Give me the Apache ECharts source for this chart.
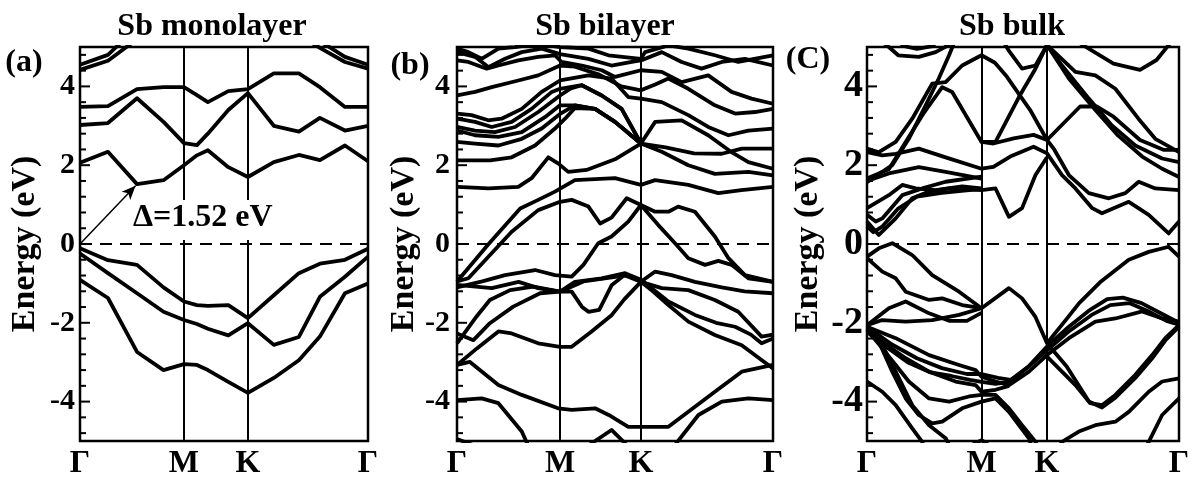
<!DOCTYPE html>
<html>
<head>
<meta charset="utf-8">
<script src="https://cdn.jsdelivr.net/npm/echarts@6/dist/echarts.min.js"></script>
<style>
  html, body { margin: 0; padding: 0; background: #fff; }
  #chart { width: 1198px; height: 484px; }
</style>
</head>
<body>
<div id="chart"></div>
<script>
// high-symmetry points along each path (percent of path length)
const pathLabels = ['Γ', 'M', 'K', 'Γ'];
const monoTicks = [0, 36.1, 58.3, 100];
const biTicks = [0, 32.6, 58.2, 100];
const bulkTicks = [0, 36.7, 57.7, 100];

const yLabels = [-4, -2, 0, 2, 4];

/* ========== Sb monolayer ========== */
const monoK = [0, 9.7, 19.8, 29, 36.1, 40.6, 44.4, 51.5, 58.3, 67.3, 76, 83.3, 92, 100];
const monoBands = [
  [4.55, 4.8, 5.5, 6, 6, 6, 6, 6, 6, 6, 5.6, 5.15, 4.75, 4.55],
  [4.42, 4.65, 5.2, 5.6, 5.8, 5.8, 5.8, 5.8, 5.8, 5.6, 5.3, 4.98, 4.62, 4.45],
  [3.48, 3.5, 3.93, 3.98, 3.98, 3.78, 3.6, 3.88, 3.93, 4.33, 4.33, 3.98, 3.48, 3.48],
  [3.02, 3.07, 3.7, 3.1, 2.56, 2.51, 2.8, 3.4, 3.83, 3.0, 2.85, 3.2, 2.88, 3.0],
  [2.06, 2.34, 1.52, 1.62, 2.0, 2.25, 2.38, 1.95, 1.7, 2.08, 2.26, 2.13, 2.5, 2.1],
  [-0.11, -0.41, -0.53, -1.1, -1.46, -1.55, -1.57, -1.55, -1.88, -1.3, -0.74, -0.5, -0.4, -0.12],
  [-0.24, -0.74, -1.25, -1.72, -1.93, -2.03, -2.15, -2.32, -2.01, -2.56, -2.36, -1.34, -0.83, -0.32],
  [-0.91, -1.37, -2.74, -3.2, -3.05, -3.07, -3.2, -3.5, -3.78, -3.4, -2.95, -2.35, -1.25, -1.0]
];
const gapFrom = [0, 0];
const gapTo = [19.3, 1.48];

/* ========== Sb bilayer ========== */
const biBands = [
  [[0,4.96],[3.6,4.87],[7.8,4.7],[13.1,4.96],[18.4,5.0],[25.7,5.08],[32.6,5.0],[41.6,4.96],[47.9,4.79],[58.2,4.7],[59.5,4.87],[66.9,5.04],[73.2,4.96],[81.6,4.79],[89,4.62],[100,4.79]],
  [[0,4.87],[5.7,4.75],[9.9,4.49],[15.2,4.7],[20.5,4.87],[26.8,4.96],[32.6,4.82],[41.6,4.7],[48.9,4.53],[55.3,4.62],[58.2,4.66],[64.8,4.87],[71.1,4.62],[77.4,4.45],[83.8,4.62],[91.1,4.7],[100,4.53]],
  [[0,4.66],[3.6,4.62],[9.4,4.45],[13.1,4.53],[19.4,4.66],[25.7,4.75],[31,4.79],[33.1,4.62],[39.5,4.53],[45.8,4.41],[50,4.24],[58.2,4.41],[64.8,4.37],[71.1,4.11],[79.5,4.28],[86.9,3.86],[93.2,3.69],[100,3.56]],
  [[0,3.77],[5.7,3.86],[11,3.98],[19.4,4.15],[25.7,4.28],[32.6,4.53],[37.3,4.5],[45,4.3],[52,4.0],[58.2,3.9],[62.7,4.05],[66.9,4.2],[73.2,3.94],[81.6,3.52],[88,3.31],[94.3,3.35],[100,3.43]],
  [[0,3.31],[4.6,3.27],[9.9,3.14],[14.1,3.18],[20.5,3.43],[26.8,3.86],[32.6,4.15],[41.6,4.28],[48.9,4.2],[54.2,3.73],[58.2,3.69],[64.8,3.6],[73.2,3.27],[79.5,2.97],[85.9,2.76],[92.2,2.88],[100,2.93]],
  [[0,3.18],[5.7,3.1],[11,2.97],[17.3,3.1],[23.6,3.43],[30,3.86],[32.6,3.94],[39.5,4.03],[45.8,3.77],[52.1,3.43],[58.2,2.55],[62.7,3.1],[71.1,3.14],[79.5,2.76],[86.9,2.33],[92.2,2.08],[100,1.91]],
  [[0,2.97],[5.7,2.88],[12,2.84],[18.4,2.97],[25.7,3.35],[32.6,3.77],[36,3.95],[39.5,4.03],[45.8,3.77],[52.1,3.43],[58.2,2.55]],
  [[0,2.88],[5.7,2.76],[13.1,2.72],[20.5,2.84],[27.8,3.22],[32.6,3.52],[37.3,3.52],[43.7,3.43],[50,3.1],[58.2,2.55]],
  [[0,2.59],[5.7,2.55],[13.1,2.5],[20.5,2.67],[26.8,2.93],[32.6,3.3],[37.3,3.52],[43.7,3.43],[50,3.1],[58.2,2.55],[64.8,2.34],[73.2,2.0],[81.6,1.78],[92.2,1.83],[100,1.74]],
  [[0,2.12],[10.5,2.12],[17.3,2.2],[24.7,2.5],[31,2.93],[34.2,3.18],[37.3,3.45],[43.7,3.43],[50,3.1],[58.2,2.55]],
  [[0,1.45],[10,1.41],[19.4,1.45],[23.6,1.67],[28.9,2.2],[32.1,2.04],[35.2,1.83],[41,1.88],[50,2.15],[58.2,2.55],[66,2.45],[75,2.3],[83.8,2.29],[90.1,2.42],[100,2.42]],
  [[0,-0.95],[10,0.0],[20,0.9],[25.7,1.12],[31,1.33],[37.3,1.62],[50,1.67],[58.2,1.5],[62.7,1.62],[73.2,1.5],[82.7,1.29],[90,1.37],[100,1.45]],
  [[0,-0.95],[3.6,-0.87],[17.3,0.31],[25.7,0.86],[32.6,1.07],[36.3,1.12],[41.6,0.95],[45.3,0.52],[48.9,0.67],[53.7,1.16],[58.2,0.99],[62.7,0.82],[66.9,0.82],[70,0.95],[75.3,0.82],[81.6,0.19],[85.9,-0.36],[91.1,-0.79],[100,-0.96]],
  [[0,-1.1],[8,-0.95],[15.2,-0.79],[24.7,-0.66],[31,-0.79],[36.3,-0.83],[40,-0.53],[44.7,0.02],[48.9,0.19],[54.2,0.57],[58.2,0.99],[63.7,0.48],[69,0.02],[73.2,-0.36],[78.5,-0.53],[82.7,-0.43],[86.9,-0.53],[92.2,-0.87],[100,-0.96]],
  [[0,-1.04],[11,-1.12],[19.5,-0.96],[25.7,-1.12],[32.6,-1.21],[36.3,-1.21],[39.5,-1.59],[41.6,-1.72],[45,-1.67],[49,-1.04],[53,-0.79],[58.2,-0.96],[62.7,-0.7],[67.9,-0.79],[75.3,-0.96],[83.8,-1.1],[91,-1.2],[100,-1.25]],
  [[0,-3.07],[6.3,-2.65],[13.1,-2.22],[17.3,-2.27],[25.7,-2.52],[32.6,-2.61],[36.3,-2.61],[42.6,-2.22],[49,-1.8],[53,-1.4],[58.2,-0.96],[62,-1.2],[66.9,-1.55],[73.2,-1.97],[81.6,-2.31],[90.1,-2.57],[100,-3.16]],
  [[0,-2.52],[6.2,-1.84],[10.4,-1.42],[16.8,-1.17],[24.2,-1.08],[32.6,-1.21],[37.3,-0.96],[45.8,-0.87],[53.2,-0.74],[58.2,-0.91],[66.9,-1.46],[75.3,-1.8],[82,-2.0],[88,-2.1],[93,-2.3],[96.4,-2.52],[100,-2.4]],
  [[0,-2.27],[5.2,-2.44],[10.4,-2.01],[17.8,-1.59],[26.3,-1.25],[32.6,-1.21],[40,-0.95],[49,-0.85],[54,-0.79],[58.2,-0.96],[64.8,-1.12],[73.2,-1.17],[81.6,-1.42],[89,-1.72],[96.4,-2.35],[100,-2.3]],
  [[0,-3.07],[4,-2.99],[13.1,-3.58],[20.5,-3.83],[32,-4.17],[36.3,-4.21],[43.7,-4.17],[48,-4.34],[54.2,-4.64],[58.4,-4.64],[66.9,-4.64],[73.2,-4.26],[81.6,-3.75],[90.1,-3.24],[100,-3.07]],
  [[0,-3.96],[7.8,-3.92],[13.1,-4.04],[20.5,-4.76],[23,-5.2]],
  [[40,-5.2],[48.9,-4.72],[55,-5.2]],
  [[68,-5.2],[76.4,-4.34],[83.8,-4.0],[92.2,-3.92],[100,-3.96]],
  [[0,-4.95],[5,-5.1]]
];

/* ========== Sb bulk ========== */
const bulkBands = [
  [[3.8,5.2],[7,5.0],[10,4.79],[16.6,4.75],[22,4.87],[26,5.04],[28,5.2]],
  [[9,5.2],[12,5.02],[16,4.95],[21,5.02],[23,5.2]],
  [[0,1.57],[8.1,2.0],[13.4,2.67],[18.8,3.52],[23,4.2],[26.3,4.79],[28.4,5.2]],
  [[0,2.42],[3.8,2.33],[9.2,2.59],[14.5,3.18],[20.9,4.07],[25.2,4.11],[30.5,4.53],[36.7,4.79],[41,4.6],[44.8,4.25],[52.3,3.4],[57.7,2.64],[68.3,3.49],[73.6,3.49],[79,3.23],[87.5,2.64],[95,2.39],[100,2.39]],
  [[0,1.66],[7,1.9],[12.4,2.59],[18,3.3],[24.1,3.98],[27.3,3.86],[36.7,2.59],[40.5,2.55],[47,2.68],[53.4,2.77],[57.7,2.64],[60,2.4],[64.7,1.75],[71.1,1.29],[77.5,1.16],[82.8,1.29],[87.1,1.58],[92.4,1.41],[100,1.37]],
  [[36.7,2.59],[41.2,2.59],[48.7,3.73],[54,4.45],[57.7,5.05],[66.8,4.37],[73.2,4.28],[79.6,3.94],[87,3.18],[92.4,2.67],[100,2.33]],
  [[43.3,5.2],[45.5,4.9],[49.7,4.45],[54,4.53],[57.7,5.05],[62.5,4.53],[71.1,3.69],[78.5,3.01],[86,2.5],[94.6,2.17],[100,2.08]],
  [[57.7,5.05],[64.7,4.2],[73.2,3.4],[80.5,2.75],[88.2,2.22],[94.6,1.91],[100,1.7]],
  [[67,5.2],[68.3,5.09],[79,4.58],[87.5,4.42],[92.8,4.67],[97.1,5.09],[98,5.2]],
  [[0,2.33],[4.9,2.25],[9.2,2.29],[16.6,2.42],[25.2,2.2],[36.7,1.91],[40.5,1.96],[45.9,2.22],[53.4,2.47],[57.7,2.3],[62.5,1.75],[66.8,1.41],[72.2,0.91],[75.3,0.78],[83.9,1.07],[90.3,0.74],[96.7,0.27],[100,0.57]],
  [[0,0.57],[3.8,0.23],[9.2,0.65],[14.5,1.16],[19.9,1.33],[26.3,1.41],[36.7,1.37],[41.2,1.41],[45.5,0.69],[49.7,0.91],[54,1.75],[57.7,2.2]],
  [[0,0.74],[2.8,0.57],[4.9,0.65],[11.3,1.24],[17.7,1.41],[25.2,1.58],[36.7,1.71]],
  [[0,0.91],[7,1.24],[11.3,1.5],[15.6,1.41],[22,1.37],[30.5,1.46],[36.7,1.41]],
  [[0,1.6],[7,1.79],[16.6,1.95],[25.2,1.83],[36.7,1.66]],
  [[0,0.45],[2,0.3],[5,0.45],[10,0.9],[16,1.2],[24,1.3],[36.7,1.4]],
  [[0,-0.32],[3.8,-0.11],[8.1,0.02],[14.5,-0.28],[20.9,-0.79],[29.5,-1.21],[36.7,-1.63],[45.5,-1.12],[49.7,-1.38],[54,-1.85],[57.7,-2.52],[64,-3.11],[71.5,-4.04],[75.3,-4.09],[79.6,-3.83],[86,-3.32],[91.4,-2.82],[95.6,-2.39],[100,-2.06]],
  [[0,-0.36],[4.9,-0.7],[9.2,-0.87],[12.4,-1.21],[19.9,-1.42],[24.1,-1.38],[30.5,-1.55],[36.7,-1.63]],
  [[0,-2.06],[4.9,-1.93],[12.4,-1.97],[20.9,-1.93],[29.5,-1.8],[36.7,-1.63]],
  [[0,-2.06],[7,-1.63],[12.4,-1.46],[19.9,-1.76],[26.3,-1.95],[32,-1.95],[36.7,-1.75]],
  [[0,-2.1],[9.2,-2.39],[19.9,-2.82],[29.5,-3.07],[34.8,-3.2],[36.7,-3.37],[41.2,-3.49],[45.5,-3.58],[51.9,-3.24],[57.7,-2.82],[64.7,-2.39],[73.2,-1.97],[79.6,-1.89],[88.2,-1.71],[94.6,-1.89],[100,-1.97]],
  [[0,-2.14],[6,-2.6],[13,-3.0],[20,-3.25],[27,-3.35],[33,-3.45],[36.7,-3.5],[41.2,-3.55],[45.5,-3.5],[51.9,-3.1],[57.7,-2.6],[64.7,-2.1],[71,-1.7],[77,-1.4],[82,-1.36],[88,-1.5],[94,-1.75],[100,-2.0]],
  [[0,-2.1],[8,-2.55],[16,-2.9],[24,-3.15],[32,-3.3],[36.7,-3.3],[42,-3.4],[46,-3.45],[52,-3.1],[57.7,-2.7],[65,-2.2],[72,-1.8],[78,-1.55],[84,-1.5],[90,-1.7],[96,-1.95],[100,-2.05]],
  [[0,-2.14],[4.9,-2.48],[12.4,-2.9],[19.9,-3.24],[28.4,-3.49],[34.8,-3.58],[36.7,-3.75],[41.2,-3.7],[45.5,-3.6]],
  [[0,-2.18],[4.9,-2.65],[9.2,-3.07],[13.4,-3.49],[19.9,-3.92],[26.3,-4.0],[32.7,-3.87],[36.7,-3.83],[41.2,-3.83],[45.5,-4.17],[49.7,-4.6],[54,-5.02],[55,-5.2]],
  [[0,-2.23],[3.8,-2.48],[8.1,-3.24],[12.4,-3.92],[16.6,-4.34],[20.9,-4.55],[24.1,-4.51],[30.5,-4.17],[36.7,-4.0],[41.2,-3.92],[45.5,-4.26],[51.9,-4.93],[53,-5.2]],
  [[0,-3.49],[4.9,-3.75],[9.2,-4.09],[14.5,-4.68],[17.7,-5.02],[18.5,-5.2]],
  [[0,-2.14],[3.8,-2.39],[9.2,-3.24],[14.5,-4.09],[19.9,-4.6],[25.2,-4.93],[27,-5.2]],
  [[31,-5.2],[36.7,-4.98],[41,-5.2]],
  [[57.7,-2.86],[62.5,-3.24],[66.8,-3.58],[71.1,-4.0],[75.3,-4.15],[79.6,-3.9],[86,-3.4],[91.4,-2.9],[95.6,-2.45],[100,-2.1]],
  [[61,-5.2],[62.5,-5.02],[67.9,-4.76],[73.2,-4.6],[79.6,-4.51],[83.9,-4.26],[90.3,-3.75],[94.6,-3.49],[100,-3.41]],
  [[89,-5.2],[90.3,-5.02],[94.6,-4.34],[100,-3.92]],
  [[57.7,-2.52],[64,-1.9],[68,-1.5],[75,-0.95],[83.9,-0.4],[90.3,-0.2],[96.7,-0.07],[100,-0.32]]
];

/* ========== 布局 ========== */
const FONT = '"Liberation Serif", "Times New Roman", serif';
const panels = [
  { left: 80, width: 288, ticks: monoTicks, labelSize: 30, labelMargin: 5, nameGap: 38,
    bands: monoBands.map(b => b.map((e, i) => [monoK[i], e])) },
  { left: 457, width: 316, ticks: biTicks, labelSize: 30, labelMargin: 7, nameGap: 32, bands: biBands },
  { left: 867, width: 312, ticks: bulkTicks, labelSize: 38, labelMargin: 4, nameGap: 42, bands: bulkBands }
];

const majorTicks = yLabels;
const minorTicks = [];
for (let i = -12; i <= 12; i++) {
  const v = +(i * 0.4).toFixed(1);
  if (Math.abs(v) < 5 && !majorTicks.includes(v)) minorTicks.push(v);
}

// inward tick marks on the left edge, placed through the y scale
function tickSeries(gi, values, len) {
  return {
    type: 'custom', xAxisIndex: gi, yAxisIndex: gi, silent: true, z: 5,
    data: values.map(v => [0, v]),
    renderItem: (params, api) => {
      const p = api.coord([api.value(0), api.value(1)]);
      return { type: 'line', shape: { x1: p[0], y1: p[1], x2: p[0] + len, y2: p[1] },
               style: { stroke: '#000', lineWidth: 2 } };
    }
  };
}

const grid = [], xAxis = [], yAxis = [], series = [];
panels.forEach((p, gi) => {
  grid.push({ left: p.left, top: 47, width: p.width, height: 394, show: true,
              borderColor: '#000', borderWidth: 2.5, backgroundColor: 'transparent' });
  xAxis.push({
    type: 'value', gridIndex: gi, min: 0, max: 100,
    axisLine: { show: false }, axisTick: { show: false }, splitLine: { show: false },
    axisLabel: {
      customValues: p.ticks, margin: 7, color: '#000',
      fontFamily: FONT, fontWeight: 'bold', fontSize: 32,
      formatter: v => pathLabels[p.ticks.indexOf(v)] || ''
    }
  });
  yAxis.push({
    type: 'value', gridIndex: gi, min: -5, max: 5,
    axisLine: { show: false }, splitLine: { show: false }, axisTick: { show: false },
    axisLabel: { customValues: yLabels, margin: p.labelMargin, color: '#000',
                 fontFamily: FONT, fontWeight: 'bold', fontSize: p.labelSize },
    name: 'Energy (eV)', nameLocation: 'middle', nameGap: p.nameGap,
    nameTextStyle: { color: '#000', fontFamily: FONT, fontWeight: 'bold', fontSize: 34 }
  });

  const markData = [
    { xAxis: p.ticks[1] }, { xAxis: p.ticks[2] },
    { yAxis: 0, lineStyle: { type: [12, 8], width: 2 } }
  ];
  if (gi === 0) {
    markData.push([
      { coord: gapFrom, symbol: 'none' },
      { coord: gapTo, symbol: 'arrow', symbolSize: [9, 14], lineStyle: { width: 1.5, type: 'solid' } }
    ]);
  }
  series.push({
    type: 'line', xAxisIndex: gi, yAxisIndex: gi, data: [], silent: true,
    markLine: { silent: true, symbol: 'none', animation: false, label: { show: false },
                lineStyle: { color: '#000', width: 2, type: 'solid' }, data: markData }
  });
  series.push(tickSeries(gi, majorTicks, 10));
  series.push(tickSeries(gi, minorTicks, 6));
  p.bands.forEach(pts => {
    series.push({
      type: 'line', xAxisIndex: gi, yAxisIndex: gi, data: pts,
      showSymbol: false, symbol: 'none', silent: true, clip: true,
      lineStyle: { color: '#000', width: 3.8, join: 'round' }
    });
  });
});

const txt = (x, y, text, size, z) => ({
  type: 'text', x, y, z: z || 10,
  style: { text, fill: '#000', font: `bold ${size}px ${FONT}`, textAlign: 'center', textVerticalAlign: 'middle' }
});

const chart = echarts.init(document.getElementById('chart'), null, { renderer: 'canvas' });
chart.setOption({
  animation: false,
  backgroundColor: '#fff',
  grid, xAxis, yAxis, series,
  graphic: [
    txt(212, 27, 'Sb monolayer', 32),
    txt(605, 27, 'Sb bilayer', 32),
    txt(1012, 27, 'Sb bulk', 32),
    txt(24, 63, '(a)', 32),
    txt(410, 66, '(b)', 32),
    txt(808, 60, '(C)', 32),
    { type: 'rect', z: 20, shape: { x: 130, y: 200, width: 160, height: 40 }, style: { fill: '#fff' } },
    { type: 'text', x: 133, y: 218, z: 21,
      style: { text: 'Δ=1.52 eV', fill: '#000', font: `bold 32px ${FONT}`, textAlign: 'left', textVerticalAlign: 'middle' } }
  ]
});
</script>
</body>
</html>
